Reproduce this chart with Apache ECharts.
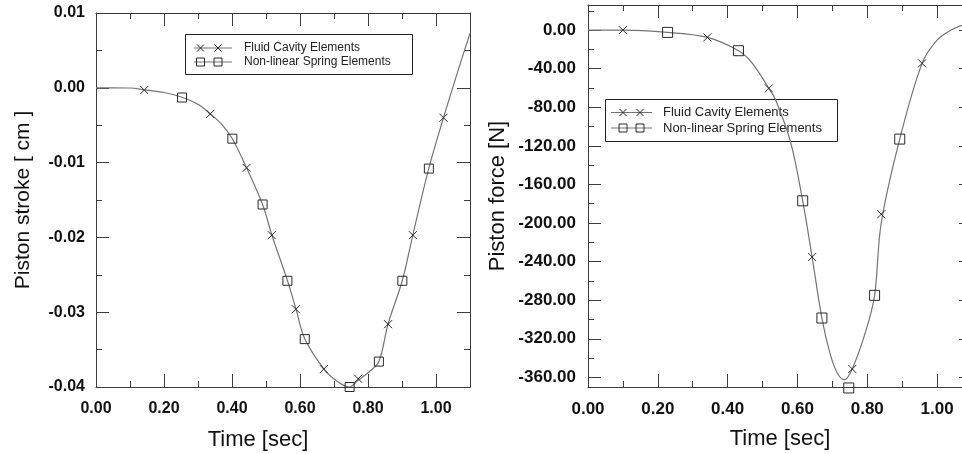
<!DOCTYPE html>
<html><head><meta charset="utf-8">
<script src="https://cdn.jsdelivr.net/npm/echarts@6/dist/echarts.min.js"></script>
<style>html,body{margin:0;padding:0;background:#fff;overflow:hidden}#c{width:962px;height:454px}</style>
</head><body><div id="c"></div>
<script>
// ---------- data ----------
const seriesNames = ['Fluid Cavity Elements', 'Non-linear Spring Elements'];

// Left chart: piston stroke [cm] vs time [sec]
const strokeCurveT = [0, 0.05, 0.10, 0.142, 0.20, 0.253, 0.30, 0.336, 0.37, 0.401, 0.443, 0.49, 0.517, 0.563, 0.588, 0.614, 0.67, 0.71, 0.745, 0.771, 0.80, 0.832, 0.859, 0.901, 0.932, 0.979, 1.022, 1.06, 1.10];
const strokeCurveV = [0, 0, -0.00003, -0.00027, -0.00063, -0.00126, -0.0022, -0.00348, -0.0049, -0.00682, -0.01072, -0.0156, -0.01965, -0.02576, -0.02955, -0.03356, -0.03757, -0.03926, -0.0400, -0.0391, -0.0381, -0.0366, -0.03155, -0.02576, -0.01965, -0.01075, -0.00401, 0.0016, 0.0073];
const strokeFluidT = [0.142, 0.336, 0.443, 0.517, 0.588, 0.670, 0.771, 0.859, 0.932, 1.022];
const strokeFluidV = [-0.0003, -0.0035, -0.0107, -0.0197, -0.0296, -0.0376, -0.0389, -0.0316, -0.0197, -0.0040];
const strokeSpringT = [0.253, 0.401, 0.49, 0.563, 0.614, 0.746, 0.832, 0.901, 0.979];
const strokeSpringV = [-0.0013, -0.0068, -0.0156, -0.0258, -0.0336, -0.0400, -0.0366, -0.0258, -0.0108];

// Right chart: piston force [N] vs time [sec]
const forceCurveT = [0, 0.10, 0.228, 0.342, 0.431, 0.47, 0.518, 0.537, 0.58, 0.615, 0.642, 0.67, 0.693, 0.714, 0.734, 0.757, 0.797, 0.821, 0.84, 0.893, 0.957, 1.00, 1.04, 1.072];
const forceCurveV = [0, 0, -2.4, -7.6, -21.4, -34, -60.4, -72, -115.6, -177, -235.3, -298.5, -334.8, -355.5, -362.4, -351.3, -310.6, -275, -200, -113, -34.5, -10.4, 0, 5];
const forceFluidT = [0.10, 0.342, 0.518, 0.642, 0.757, 0.84, 0.957];
const forceFluidV = [0, -7.6, -60.4, -235.3, -351.3, -190.9, -34.5];
const forceSpringT = [0.228, 0.431, 0.615, 0.670, 0.747, 0.821, 0.893];
const forceSpringV = [-2.4, -21.4, -177, -298.5, -371, -275, -113];

// Tick values
const timeMajor = [0, 0.2, 0.4, 0.6, 0.8, 1.0];
const timeMinor = [0.1, 0.3, 0.5, 0.7, 0.9];
const strokeMajor = [0.01, 0, -0.01, -0.02, -0.03, -0.04];
const strokeMinor = [0.005, -0.005, -0.015, -0.025, -0.035];
const forceMajor = [0, -40, -80, -120, -160, -200, -240, -280, -320, -360];
const forceMinor = [20, -20, -60, -100, -140, -180, -220, -260, -300, -340];

// ---------- chart ----------
const FF = '"Liberation Sans", Arial, Helvetica, sans-serif';
const AX = '#3c3c3c';
const TXT = '#111';
const zip = (a, b) => a.map((v, i) => [v, b[i]]);

function tick(vals, len) {
  return {show: true, inside: true, length: len, customValues: vals, lineStyle: {color: AX, width: 1}};
}
const lineOn = {show: true, onZero: false, lineStyle: {color: AX, width: 1}};
const lineOff = {show: false, onZero: false};

function xAxesFor(g, c) {
  const base = {type: 'value', gridIndex: g, min: c.min, max: c.max, splitLine: {show: false}};
  return [
    Object.assign({}, base, {position: 'bottom', axisLine: lineOn, axisTick: tick(c.major, 13),
      axisLabel: {show: true, customValues: c.major, margin: c.labelMargin, formatter: v => v.toFixed(2),
        color: TXT, fontFamily: FF, fontWeight: 'bold', fontSize: c.labelSize},
      name: c.name, nameLocation: 'middle', nameGap: c.nameGap,
      nameTextStyle: {color: TXT, fontFamily: FF, fontSize: c.nameSize, padding: c.namePad}}),
    Object.assign({}, base, {position: 'bottom', axisLine: lineOff, axisTick: tick(c.minor, 6), axisLabel: {show: false}}),
    Object.assign({}, base, {position: 'top', axisLine: lineOn, axisTick: tick(c.major, 13), axisLabel: {show: false}}),
    Object.assign({}, base, {position: 'top', axisLine: lineOff, axisTick: tick(c.minor, 6), axisLabel: {show: false}})
  ];
}
function yAxesFor(g, c) {
  const base = {type: 'value', gridIndex: g, min: c.min, max: c.max, splitLine: {show: false}};
  return [
    Object.assign({}, base, {position: 'left', axisLine: lineOn, axisTick: tick(c.major, 13),
      axisLabel: {show: true, customValues: c.major, margin: c.labelMargin, formatter: v => v.toFixed(2),
        color: TXT, fontFamily: FF, fontWeight: 'bold', fontSize: c.labelSize},
      name: c.name, nameLocation: 'middle', nameGap: c.nameGap,
      nameTextStyle: {color: TXT, fontFamily: FF, fontSize: c.nameSize}}),
    Object.assign({}, base, {position: 'left', axisLine: lineOff, axisTick: tick(c.minor, 6), axisLabel: {show: false}}),
    Object.assign({}, base, {position: 'right', axisLine: lineOn, axisTick: tick(c.major, 13), axisLabel: {show: false}}),
    Object.assign({}, base, {position: 'right', axisLine: lineOff, axisTick: tick(c.minor, 6), axisLabel: {show: false}})
  ];
}

const X_PATH = 'path://M0,0L10,10M10,0L0,10';
const SQ_PATH = 'path://M0,0L10,0L10,10L0,10Z';
const markerStyle = {color: 'rgba(0,0,0,0)', borderColor: '#2a2a2a', borderWidth: 1, opacity: 1};

function seriesFor(axisIdx, curveT, curveV, fT, fV, sT, sV, xSize, sqSize) {
  return [
    {type: 'line', name: seriesNames[0] + ' curve', xAxisIndex: axisIdx, yAxisIndex: axisIdx,
      data: zip(curveT, curveV), smooth: 0.35, showSymbol: false, silent: true,
      lineStyle: {color: '#747474', width: 1.2}, z: 2},
    {type: 'scatter', name: seriesNames[0], xAxisIndex: axisIdx, yAxisIndex: axisIdx,
      data: zip(fT, fV), symbol: X_PATH, symbolSize: xSize, itemStyle: markerStyle, clip: false, silent: true, z: 3},
    {type: 'scatter', name: seriesNames[1], xAxisIndex: axisIdx, yAxisIndex: axisIdx,
      data: zip(sT, sV), symbol: SQ_PATH, symbolSize: sqSize, itemStyle: markerStyle, clip: false, silent: true, z: 3}
  ];
}

function legendGraphic(L) {
  const ch = [];
  ch.push({type: 'rect', shape: {x: L.x, y: L.y, width: L.w, height: L.h},
    style: {fill: '#fff', stroke: '#222', lineWidth: 1}});
  L.rows.forEach((y, i) => {
    ch.push({type: 'line', shape: {x1: L.lx1, y1: y, x2: L.lx2, y2: y}, style: {stroke: '#747474', lineWidth: 1.2}});
    L.mx.forEach(mx => {
      if (i === 0) {
        const r = L.xr;
        ch.push({type: 'line', shape: {x1: mx - r, y1: y - r, x2: mx + r, y2: y + r}, style: {stroke: '#2a2a2a', lineWidth: 1}});
        ch.push({type: 'line', shape: {x1: mx + r, y1: y - r, x2: mx - r, y2: y + r}, style: {stroke: '#2a2a2a', lineWidth: 1}});
      } else {
        const r = L.sr;
        ch.push({type: 'rect', shape: {x: mx - r, y: y - r, width: 2 * r, height: 2 * r}, style: {fill: null, stroke: '#2a2a2a', lineWidth: 1}});
      }
    });
    ch.push({type: 'text', x: L.tx, y: y, style: {text: seriesNames[i], fill: '#222', font: L.fs + 'px ' + FF, verticalAlign: 'middle', align: 'left'}});
  });
  return {type: 'group', z: 100, children: ch};
}

const chart = echarts.init(document.getElementById('c'), null, {renderer: 'canvas'});
chart.setOption({
  backgroundColor: '#fff',
  animation: false,
  grid: [
    {left: 96, top: 13, width: 374, height: 374, containLabel: false, outerBoundsMode: 'none'},
    {left: 588, top: 5, width: 384, height: 382, containLabel: false, outerBoundsMode: 'none'}
  ],
  xAxis: [].concat(
    xAxesFor(0, {min: 0, max: 1.1, major: timeMajor, minor: timeMinor, labelMargin: 14, labelSize: 16,
      name: 'Time [sec]', nameGap: 42, nameSize: 22, namePad: [0, 50, 0, 0]}),
    xAxesFor(1, {min: 0, max: 1.1, major: timeMajor, minor: timeMinor, labelMargin: 14, labelSize: 17,
      name: 'Time [sec]', nameGap: 41, nameSize: 22, namePad: [0, 0, 0, 0]})
  ),
  yAxis: [].concat(
    yAxesFor(0, {min: -0.04, max: 0.01, major: strokeMajor, minor: strokeMinor, labelMargin: 11, labelSize: 16,
      name: 'Piston stroke [ cm ]', nameGap: 62, nameSize: 21}),
    yAxesFor(1, {min: -370, max: 26, major: forceMajor, minor: forceMinor, labelMargin: 12, labelSize: 17,
      name: 'Piston force [N]', nameGap: 79, nameSize: 22})
  ),
  series: [].concat(
    seriesFor(0, strokeCurveT, strokeCurveV, strokeFluidT, strokeFluidV, strokeSpringT, strokeSpringV, 8, 9),
    seriesFor(4, forceCurveT, forceCurveV, forceFluidT, forceFluidV, forceSpringT, forceSpringV, 8, 10)
  ),
  graphic: [
    legendGraphic({x: 185.5, y: 34.5, w: 227, h: 40, rows: [48, 62], lx1: 194, lx2: 232, mx: [200.5, 218], xr: 3.5, sr: 4, tx: 244, fs: 12}),
    legendGraphic({x: 605.5, y: 99.5, w: 232, h: 42, rows: [112.5, 128], lx1: 611, lx2: 652, mx: [623, 640], xr: 3.5, sr: 4, tx: 663, fs: 13})
  ]
});
</script>
</body></html>
